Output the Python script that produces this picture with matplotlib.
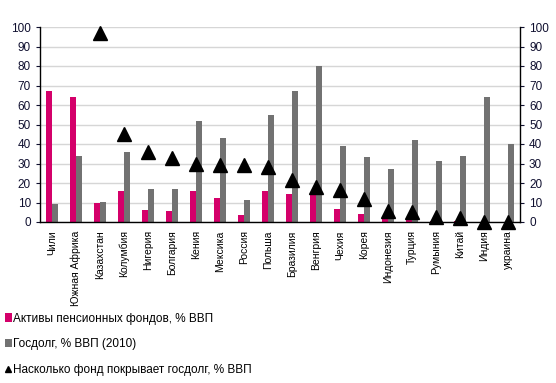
import matplotlib.pyplot as plt
import numpy as np

plt.rcParams['font.family'] = ['Liberation Sans', 'DejaVu Sans']

countries = ['Чили', 'Южная Африка', 'Казахстан', 'Колумбия', 'Нигерия', 'Болгария',
             'Кения', 'Мексика', 'Россия', 'Польша', 'Бразилия', 'Венгрия', 'Чехия',
             'Корея', 'Индонезия', 'Турция', 'Румыния', 'Китай', 'Индия', 'украина']
pension = [67, 64, 10, 16, 6, 5.5, 16, 12.5, 3.5, 16, 14.5, 15, 6.5, 4, 1.5, 2.5, 0.5, 0.5, 0.2, 0]
debt = [9, 34, 10.5, 36, 17, 17, 52, 43, 11.5, 55, 67, 80, 39, 33.5, 27, 42, 31.5, 34, 64, 40]
cover = [None, None, 97, 45, 36, 33, 30, 29, 29, 28, 21.5, 18, 16.5, 12, 5.5, 5, 2.5, 2, 0, 0]

pink = '#d4006a'
gray = '#727272'
tick_color = '#101030'

fig = plt.figure(figsize=(5.56, 3.83), dpi=100)
ax = fig.add_axes([40 / 556, 1 - 222 / 383, 480 / 556, 195 / 383])

x = np.arange(len(countries))
w = 0.27
b1 = ax.bar(x - w / 2, pension, w, color=pink, label='Активы пенсионных фондов, % ВВП')
b2 = ax.bar(x + w / 2, debt, w, color=gray, label='Госдолг, % ВВП (2010)')
cx = [i for i, v in zip(x, cover) if v is not None]
cy = [v for v in cover if v is not None]
m, = ax.plot(cx, cy, '^', color='black', markersize=10, clip_on=False,
             label='Насколько фонд покрывает госдолг, % ВВП')

ax.set_xlim(-0.5, len(countries) - 0.5)
ax.set_ylim(0, 100)
ax.set_yticks(range(0, 101, 10))
ax.yaxis.grid(True, color='#d6d6d6', linewidth=1)
ax.set_axisbelow(True)
ax.spines['top'].set_visible(False)
for s in ['left', 'right', 'bottom']:
    ax.spines[s].set_color('black')
    ax.spines[s].set_linewidth(1)
ax.tick_params(axis='y', labelsize=8.5, colors=tick_color, length=3,
               right=True, labelright=True)
ax.set_xticks(x)
ax.set_xticklabels(countries, rotation=90, fontsize=7.5)
ax.tick_params(axis='x', length=0, pad=6)

fig.legend(handles=[b1, b2, m], loc='upper left', bbox_to_anchor=(0.0, 1 - 308 / 383),
           frameon=False, fontsize=8.5, labelspacing=1.15, handlelength=0.6,
           handletextpad=0.1, borderaxespad=0, markerscale=0.5)

fig.savefig('out.png', dpi=100)
